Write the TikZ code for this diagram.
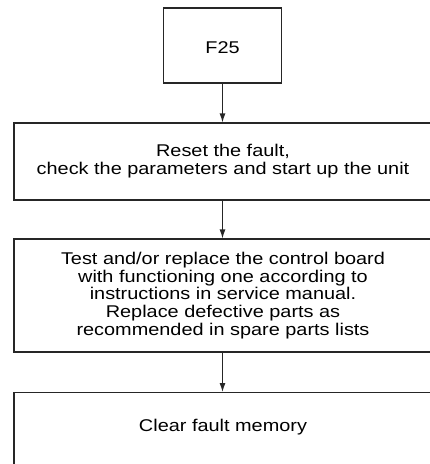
\documentclass[tikz,border=0pt]{standalone}
\usepackage{fontspec}
\setmainfont{Liberation Sans}[FakeStretch=1.17]
\usetikzlibrary{arrows.meta}
\begin{document}
\begin{tikzpicture}[
    x=1pt, y=-1pt,
    stepbox/.style={
        rectangle,
        draw=black!85,
        line width=1.1pt,
        align=center,
        inner sep=0pt,
        minimum width=418pt,
        font=\fontsize{17}{17.8}\selectfont
    },
    flow/.style={
        draw=black!85,
        line width=1.1pt,
        -{Latex[length=9pt,width=6pt]}
    }
]

\useasboundingbox (0,0) rectangle (430,464);
\clip (0,0) rectangle (430,464);

% Fault code
\node[stepbox, minimum width=118pt, minimum height=75pt, text height=16pt] (fault) at (222.5,45.5) {F25};

% Steps (right edges run off the page)
\node[stepbox, minimum height=77pt] (reset) at (223,161.5) {Reset the fault,\\check the parameters and start up the unit};
\node[stepbox, minimum height=113pt] (board) at (223,295.5) {Test and/or replace the control board\\with functioning one according to\\instructions in service manual.\\Replace defective parts as\\recommended in spare parts lists};
\node[stepbox, anchor=north, text height=39pt, text depth=80pt] (memory) at (223,392) {Clear fault memory};

% Arrows
\draw[flow] (fault) -- (fault |- reset.north);
\draw[flow] (fault |- reset.south) -- (fault |- board.north);
\draw[flow] (fault |- board.south) -- (fault |- memory.north);

\end{tikzpicture}
\end{document}
